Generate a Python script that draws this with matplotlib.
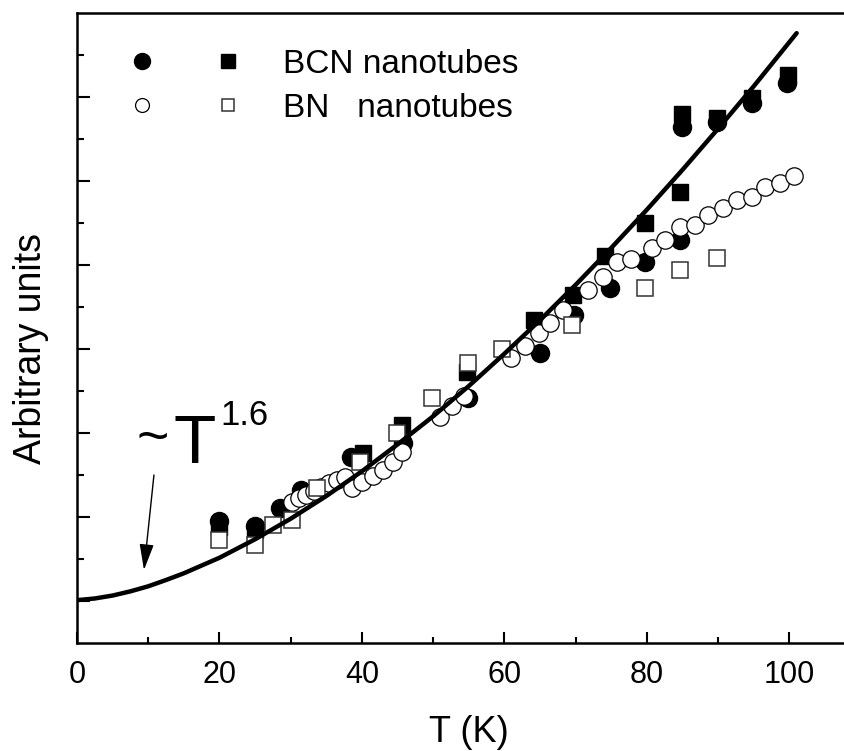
import numpy as np
import matplotlib
matplotlib.use('Agg')
import matplotlib.pyplot as plt
from matplotlib.lines import Line2D
from matplotlib.legend_handler import HandlerTuple

plt.rcParams['font.family'] = ['Liberation Sans', 'DejaVu Sans']

# BCN nanotubes, filled circles
bcn_circle_T = [20, 25, 28.5, 31.5, 38.5, 45.8, 54.9, 65, 69.8, 74.8, 79.7, 84.6, 84.9, 89.8, 94.7, 99.6]
bcn_circle_y = [2.9, 2.78, 3.21, 3.64, 4.42, 4.76, 5.83, 6.9, 7.8, 8.45, 9.07, 9.6, 12.29, 12.4, 12.86, 13.33]

# BCN nanotubes, filled squares
bcn_square_T = [20, 25, 40.1, 45.6, 54.7, 64.2, 69.6, 74.1, 79.7, 84.6, 84.9, 89.8, 94.7, 99.8]
bcn_square_y = [2.76, 2.69, 4.52, 5.19, 6.45, 7.69, 8.29, 9.22, 10.0, 10.74, 12.6, 12.5, 12.98, 13.52]

# BN nanotubes, open circles
bn_circle_T = [30.2, 31.2, 32.2, 33.2, 34.3, 35.4, 36.5, 37.6, 38.6, 40.0, 41.5, 43.0, 44.3, 45.6,
               51.0, 52.7, 54.3, 60.9, 62.9, 64.8, 66.4, 68.2, 71.7, 73.8, 75.8, 77.8, 80.7, 82.5,
               84.6, 86.7, 88.6, 90.7, 92.6, 94.7, 96.6, 98.7, 100.6]
bn_circle_y = [3.36, 3.45, 3.52, 3.62, 3.71, 3.8, 3.88, 3.95, 3.68, 3.83, 3.97, 4.12, 4.3, 4.55,
               5.38, 5.65, 5.88, 6.78, 7.08, 7.38, 7.62, 7.93, 8.4, 8.71, 9.07, 9.15, 9.4, 9.6,
               9.9, 9.95, 10.19, 10.36, 10.55, 10.62, 10.86, 10.95, 11.12]

# BN nanotubes, open squares
bn_square_T = [20, 25, 27.5, 30.2, 33.7, 39.7, 44.9, 49.8, 54.9, 59.6, 69.5, 79.7, 84.6, 89.8]
bn_square_y = [2.45, 2.33, 2.81, 2.93, 3.7, 4.3, 5.0, 5.83, 6.67, 7.0, 7.57, 8.45, 8.88, 9.17]

# ~T^1.6 fit curve
fit_T = [0, 2.5, 5, 7.5, 10, 12.5, 15, 20, 25, 30, 35, 40, 45, 50, 55, 60, 65, 70, 75, 80, 85, 90, 95, 100, 101]
fit_y = [1.02, 1.06, 1.13, 1.23, 1.35, 1.50, 1.66, 2.03, 2.47, 2.96, 3.50, 4.09, 4.73, 5.40, 6.12,
         6.89, 7.69, 8.53, 9.41, 10.32, 11.27, 12.25, 13.26, 14.31, 14.52]

fig = plt.figure(figsize=(8.45, 7.51), dpi=100)
ax = fig.add_axes([77 / 845, 108 / 751, 783.75 / 845, 630 / 751])

# filled markers first, open markers on top, fit line over everything
ax.plot(bcn_circle_T, bcn_circle_y, ls='none', marker='o', ms=13, mfc='black', mec='black', zorder=2)
ax.plot(bcn_square_T, bcn_square_y, ls='none', marker='s', ms=11.5, mfc='black', mec='black', zorder=2)
ax.plot(bn_circle_T, bn_circle_y, ls='none', marker='o', ms=12.5, mfc='white', mec='black', mew=0.9, zorder=3)
ax.plot(bn_square_T, bn_square_y, ls='none', marker='s', ms=11.5, mfc='white', mec='#333333', mew=1.1, zorder=3)
ax.plot(fit_T, fit_y, color='black', lw=3.2, solid_capstyle='round', zorder=4)

ax.set_xlim(0, 110)
ax.set_ylim(0, 15)
ax.set_xticks([0, 20, 40, 60, 80, 100])
ax.set_xticks([10, 30, 50, 70, 90], minor=True)
ax.set_yticks([1, 3, 5, 7, 9, 11, 13])
ax.set_yticks([2, 4, 6, 8, 10, 12, 14], minor=True)
ax.set_yticklabels([])

for s in ax.spines.values():
    s.set_linewidth(1.8)
ax.spines['right'].set_visible(False)

ax.tick_params(axis='x', which='major', direction='in', length=8, width=1.5, labelsize=22, pad=12)
ax.tick_params(axis='x', which='minor', direction='in', length=4, width=1.5)
ax.tick_params(axis='y', which='major', direction='in', length=9.5, width=1.5)
ax.tick_params(axis='y', which='minor', direction='in', length=5, width=1.5)

ax.set_xlabel('T (K)', fontsize=26)
ax.xaxis.set_label_coords(0.5, -0.115)
ax.set_ylabel('Arbitrary units', fontsize=27)
ax.yaxis.set_label_coords(-0.036, 0.467)

# legend: two markers per row
h1 = Line2D([], [], ls='none', marker='o', ms=11.5, mfc='black', mec='black')
h2 = Line2D([], [], ls='none', marker='s', ms=10, mfc='black', mec='black')
h3 = Line2D([], [], ls='none', marker='o', ms=10, mfc='white', mec='black', mew=0.9)
h4 = Line2D([], [], ls='none', marker='s', ms=9, mfc='white', mec='#333333', mew=1.1)
ax.legend([(h1, h2), (h3, h4)], ['BCN nanotubes', 'BN   nanotubes'],
          handler_map={tuple: HandlerTuple(ndivide=None, pad=1.26)},
          handlelength=3.9, handletextpad=0.99, labelspacing=0.39,
          loc='upper left', bbox_to_anchor=(0.0549, 0.943),
          borderpad=0, borderaxespad=0, frameon=False, fontsize=24)

# ~T^1.6 label with arrow
ax.text(8.3, 4.83, '~', fontsize=40, va='center', ha='left')
ax.text(13.5, 4.29, 'T', fontsize=50, va='baseline', ha='left')
ax.text(20.1, 5.19, '1.6', fontsize=25, va='baseline', ha='left')
ax.annotate('', xy=(9.4, 1.74), xytext=(10.8, 4.0),
            arrowprops=dict(arrowstyle='-|>,head_length=0.8,head_width=0.22', color='black',
                            lw=1, mutation_scale=20, shrinkA=0, shrinkB=0))

fig.savefig('out.png', dpi=100)
